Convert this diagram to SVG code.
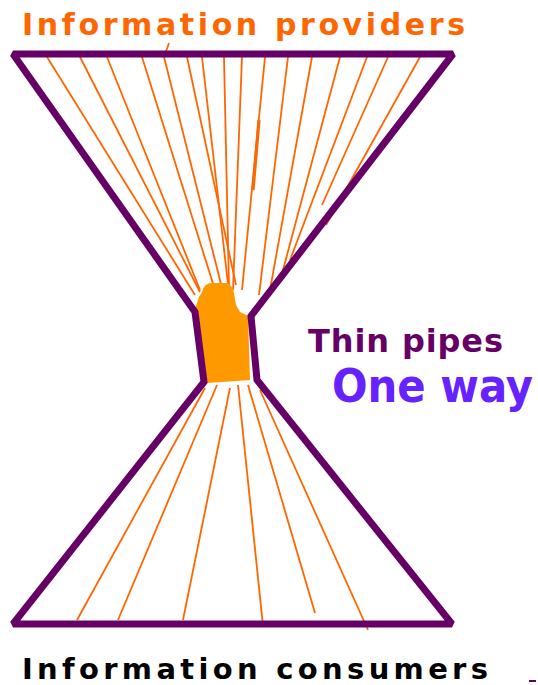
<svg xmlns="http://www.w3.org/2000/svg" width="538" height="685" viewBox="0 0 538 685">
<style>
.ln{stroke:#ff6600;stroke-width:1.8;fill:none;stroke-linecap:butt}
.lbl{font-family:"DejaVu Sans","Liberation Sans",sans-serif;font-weight:bold}
</style>
<rect width="538" height="685" fill="#ffffff"/>
<g id="connectors">
  <line class="ln" x1="47" y1="57" x2="195" y2="295"/>
  <line class="ln" x1="80" y1="57" x2="200" y2="292"/>
  <line class="ln" x1="107" y1="57" x2="200" y2="290"/>
  <line class="ln" x1="142" y1="57" x2="215" y2="290"/>
  <polyline class="ln" points="169,43 164,57 222,288"/>
  <line class="ln" x1="187" y1="57" x2="236" y2="285"/>
  <line class="ln" x1="202" y1="57" x2="228" y2="284"/>
  <line class="ln" x1="224" y1="57" x2="229" y2="288"/>
  <line class="ln" x1="242" y1="57" x2="233" y2="290"/>
  <line class="ln" x1="265" y1="57" x2="242" y2="290"/>
  <line class="ln" style="stroke-width:3.2" x1="259" y1="120" x2="253" y2="190"/>
  <line class="ln" x1="288" y1="57" x2="259" y2="295"/>
  <line class="ln" x1="312" y1="57" x2="270" y2="290"/>
  <line class="ln" x1="340" y1="57" x2="283" y2="270"/>
  <line class="ln" x1="367" y1="57" x2="290" y2="260"/>
  <line class="ln" x1="388" y1="57" x2="322" y2="205"/>
  <line class="ln" x1="420" y1="57" x2="326" y2="225"/>
  <line class="ln" x1="205" y1="388" x2="77" y2="620"/>
  <line class="ln" x1="217" y1="385" x2="118" y2="620"/>
  <line class="ln" x1="230" y1="388" x2="183" y2="620"/>
  <line class="ln" x1="238" y1="385" x2="263" y2="626"/>
  <line class="ln" x1="248" y1="385" x2="315" y2="613"/>
  <line class="ln" x1="260" y1="390" x2="368" y2="630"/>
</g>
<g id="pipe">
  <path d="M202,292 Q204,283 212,283 L228,283 L233,288 L236,305 L240,312 L248,316 L250,380 L207,383 L197,330 L194,312 L199,297 Z" fill="#ff9900"/>
</g>
<g id="hourglass">
  <polygon points="13,54 453,54 251,316 257,380 452,624 13,624 204,382 195,312" fill="none" stroke="#660066" stroke-width="7" stroke-linejoin="miter" stroke-miterlimit="1.6"/>
</g>
<g id="providers">
  <text class="lbl" x="22" y="35" font-size="30" fill="#ff6600" textLength="443" lengthAdjust="spacing">Information providers</text>
</g>
<g id="thin-pipes">
  <text class="lbl" x="308" y="352" font-size="32" fill="#660066" textLength="195" lengthAdjust="spacing">Thin pipes</text>
</g>
<g id="one-way">
  <text x="332" y="402" font-family="'DejaVu Sans','Liberation Sans',sans-serif" font-weight="bold" font-stretch="condensed" font-size="46" fill="#6622ff" textLength="201" lengthAdjust="spacingAndGlyphs">One way</text>
</g>
<g id="consumers">
  <text class="lbl" x="22" y="679" font-size="29" fill="#000000" textLength="466" lengthAdjust="spacing">Information consumers</text>
</g>
<rect x="529" y="680" width="7" height="2" fill="#660066"/>
</svg>
